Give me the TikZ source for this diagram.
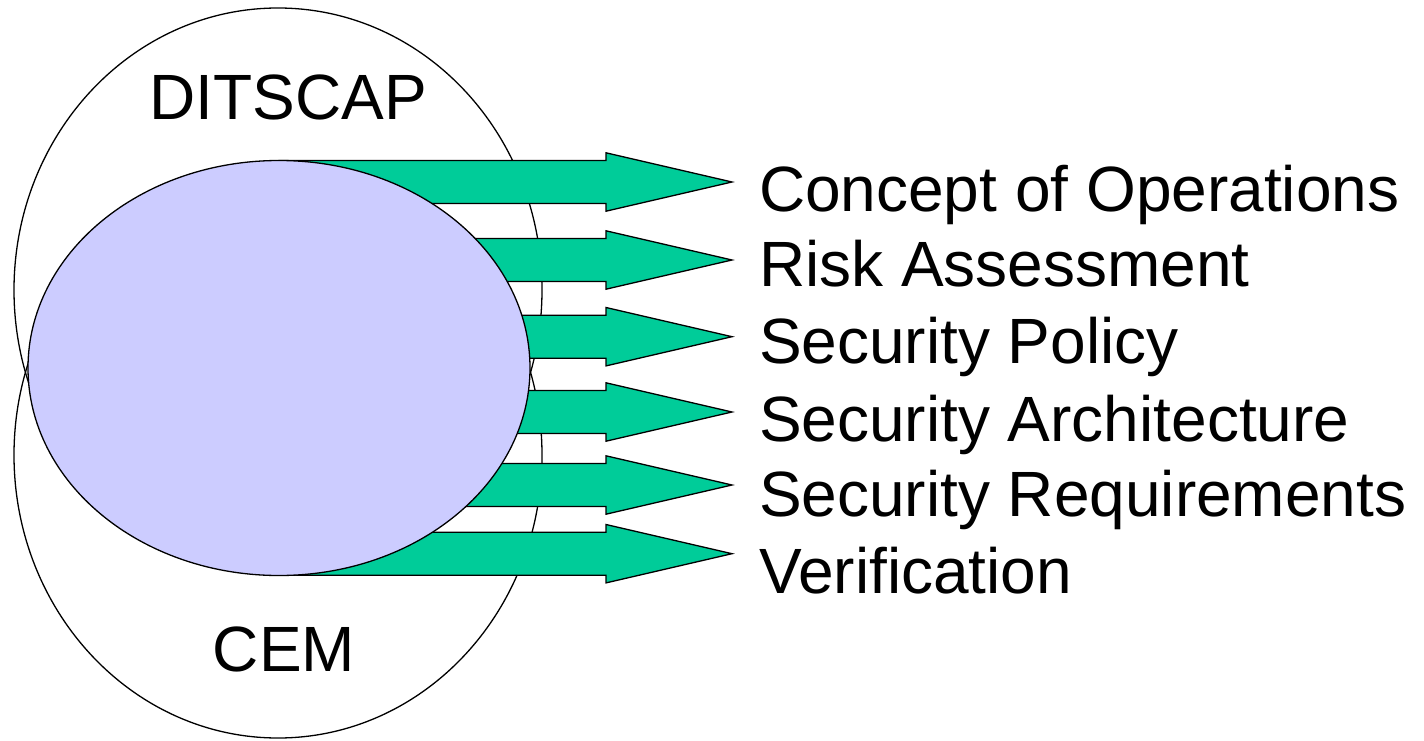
\documentclass[tikz,border=0pt]{standalone}
\usepackage{fontspec}
\setmainfont{Liberation Sans}
\usetikzlibrary{shapes.geometric}
\definecolor{arrowgreen}{RGB}{0,204,153}
\definecolor{lavenderfill}{RGB}{204,204,255}
\begin{document}
\begin{tikzpicture}[x=1pt,y=-1pt,
  outline/.style={ellipse, draw=black, line width=1.3pt, inner sep=0pt, outer sep=0pt},
  blockarrow/.style={draw=black, fill=arrowgreen, line width=1.3pt, line join=miter},
  bigtext/.style={inner sep=0pt, outer sep=0pt, font=\fontsize{64}{72}\selectfont},
  itemtext/.style={bigtext, anchor=base west}]
\useasboundingbox (0,0) rectangle (1424,741);

% the two overlapping outer ellipses
\node[outline, minimum width=528, minimum height=564] (ditscap) at (278,290) {};
\node[outline, minimum width=528, minimum height=566] (cem) at (278,455) {};

% block arrows leading out of the common area
\foreach \c/\n in {182/1, 260/2, 336.7/3, 412/4, 485/5, 553.7/6}{
  \draw[blockarrow] (279,\c-21.5) -- (606,\c-21.5) -- (606,\c-29.2)
    -- (732,\c) coordinate (tip\n) -- (606,\c+29.2) -- (606,\c+21.5)
    -- (279,\c+21.5) -- cycle;
}

% the shared core
\node[outline, fill=lavenderfill, minimum width=502, minimum height=415] (core) at (279,368) {};

% titles of the outer ellipses
\node[bigtext, anchor=base] (ditscaplabel) at (288,120) {DITSCAP};
\node[bigtext, anchor=base] (cemlabel) at (284,671.7) {CEM};

% outputs
\node[itemtext] (conops) at (759,211.7) {Concept of Operations};
\node[itemtext] (risk)   at (759,286.7) {Risk Assessment};
\node[itemtext] (policy) at (759,363)   {Security Policy};
\node[itemtext] (arch)   at (759,441.7) {Security Architecture};
\node[itemtext] (reqs)   at (759,516.7) {Security Requirements};
\node[itemtext] (verif)  at (759,593.3) {Verification};
\end{tikzpicture}
\end{document}
